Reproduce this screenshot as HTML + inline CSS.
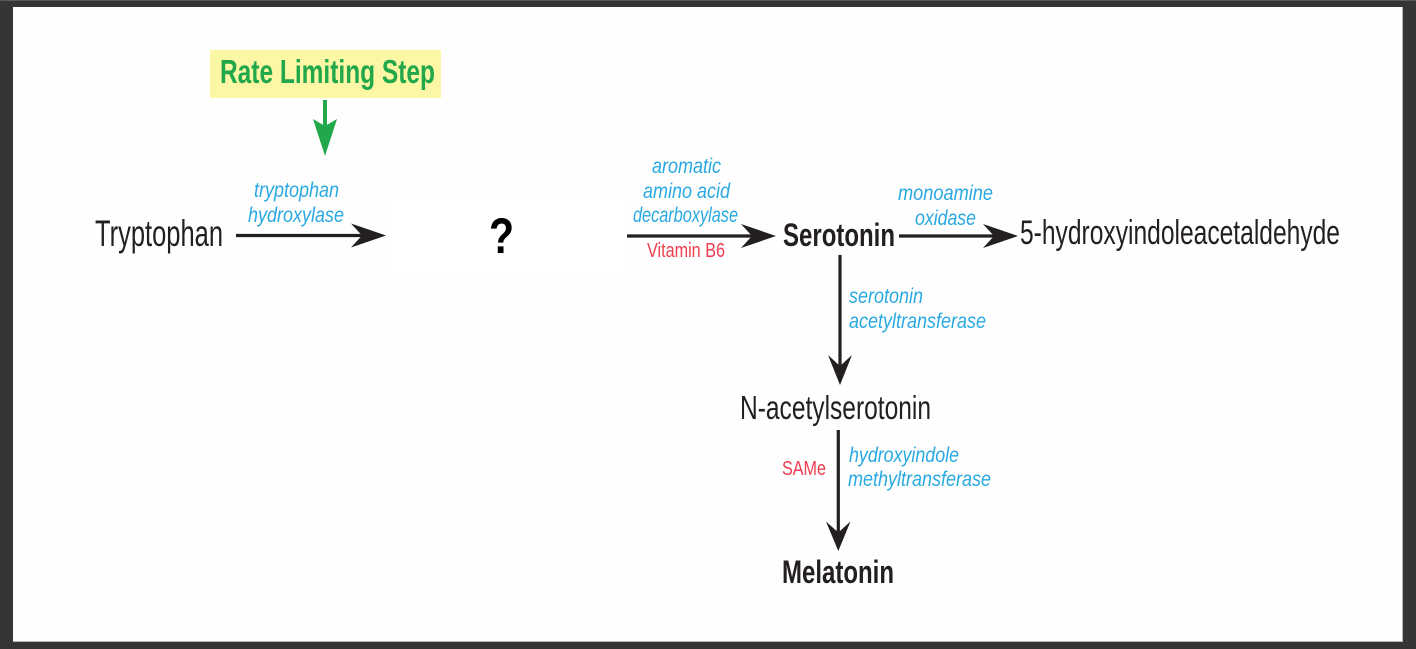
<!DOCTYPE html>
<html>
<head>
<meta charset="utf-8">
<style>
  html, body { margin: 0; padding: 0; }
  body { width: 1416px; height: 649px; background: #353535; position: relative; overflow: hidden; }
  .topline { position: absolute; left: 0; top: 0; width: 1416px; height: 1px; background: #5a5a5a; }
  .inner { position: absolute; left: 13px; top: 7px; width: 1389px; height: 634px; background: #fefefe; border-right: 1px solid #b8b8b8; border-bottom: 1px solid #b8b8b8; }
  svg { position: absolute; left: 0; top: 0; }
  text { font-family: "Liberation Sans", Arial, sans-serif; }
  .blk { fill: #231f20; }
  .blue { fill: #29a9e1; font-style: italic; font-size: 21px; }
  .red { fill: #ee3e4f; font-size: 20px; }
</style>
</head>
<body>
<div class="topline"></div>
<div class="inner"></div>
<svg width="1416" height="649" viewBox="0 0 1416 649" xmlns="http://www.w3.org/2000/svg">
  <!-- faint white box behind ? -->
  <rect x="386" y="193" width="240" height="80" fill="#ffffff"/>

  <!-- Rate limiting step -->
  <rect x="210" y="50" width="231" height="48" fill="#fbf7a4"/>
  <text x="220" y="83" font-size="33" font-weight="bold" fill="#22a84a" textLength="215" lengthAdjust="spacingAndGlyphs">Rate Limiting Step</text>
  <!-- green arrow -->
  <line x1="325" y1="100" x2="325" y2="126" stroke="#22a84a" stroke-width="4"/>
  <polygon points="313,119 325,126 337,119 325,156" fill="#22a84a"/>

  <!-- Tryptophan -->
  <text class="blk" x="95" y="246" font-size="37" textLength="128" lengthAdjust="spacingAndGlyphs">Tryptophan</text>
  <text class="blue" x="254" y="197" textLength="85" lengthAdjust="spacingAndGlyphs">tryptophan</text>
  <text class="blue" x="248" y="222" textLength="96" lengthAdjust="spacingAndGlyphs">hydroxylase</text>
  <line x1="236" y1="235.5" x2="364" y2="235.5" stroke="#231f20" stroke-width="3.2"/>
  <polygon points="351,223.5 362,235.5 351,247.5 386,235.5" fill="#231f20"/>

  <!-- ? -->
  <text x="501.5" y="253" font-size="50" font-weight="bold" fill="#000" text-anchor="middle" transform="translate(501.5 0) scale(0.82 1) translate(-501.5 0)">?</text>

  <!-- aromatic amino acid decarboxylase -->
  <text class="blue" x="652" y="173" textLength="69" lengthAdjust="spacingAndGlyphs">aromatic</text>
  <text class="blue" x="643" y="198" textLength="87" lengthAdjust="spacingAndGlyphs">amino acid</text>
  <text class="blue" x="633" y="222" textLength="105" lengthAdjust="spacingAndGlyphs">decarboxylase</text>
  <line x1="627" y1="236" x2="754" y2="236" stroke="#231f20" stroke-width="3.2"/>
  <polygon points="741,224 752,236 741,248 776,236" fill="#231f20"/>
  <text class="red" x="647" y="257" textLength="78" lengthAdjust="spacingAndGlyphs">Vitamin B6</text>

  <!-- Serotonin -->
  <text class="blk" x="783" y="246" font-size="32" font-weight="bold" textLength="112" lengthAdjust="spacingAndGlyphs">Serotonin</text>

  <!-- monoamine oxidase -->
  <text class="blue" x="898" y="200" textLength="95" lengthAdjust="spacingAndGlyphs">monoamine</text>
  <text class="blue" x="915" y="225" textLength="61" lengthAdjust="spacingAndGlyphs">oxidase</text>
  <line x1="899" y1="236" x2="996" y2="236" stroke="#231f20" stroke-width="3.2"/>
  <polygon points="983,224 994,236 983,248 1018,236" fill="#231f20"/>
  <text class="blk" x="1020" y="244" font-size="34" textLength="320" lengthAdjust="spacingAndGlyphs">5-hydroxyindoleacetaldehyde</text>

  <!-- serotonin acetyltransferase -->
  <line x1="840" y1="255" x2="840" y2="366" stroke="#231f20" stroke-width="3.2"/>
  <polygon points="828,355 840,366 852,355 840,385" fill="#231f20"/>
  <text class="blue" x="849" y="303" textLength="74" lengthAdjust="spacingAndGlyphs">serotonin</text>
  <text class="blue" x="849" y="328" textLength="137" lengthAdjust="spacingAndGlyphs">acetyltransferase</text>

  <!-- N-acetylserotonin -->
  <text class="blk" x="740" y="419" font-size="33" textLength="191" lengthAdjust="spacingAndGlyphs">N-acetylserotonin</text>

  <!-- hydroxyindole methyltransferase -->
  <line x1="838.3" y1="430" x2="838.3" y2="533" stroke="#231f20" stroke-width="3.2"/>
  <polygon points="826,521.5 838.3,532.5 850.5,521.5 838.3,551" fill="#231f20"/>
  <text class="red" x="782" y="475" textLength="44" lengthAdjust="spacingAndGlyphs">SAMe</text>
  <text class="blue" x="849" y="462" textLength="110" lengthAdjust="spacingAndGlyphs">hydroxyindole</text>
  <text class="blue" x="848" y="486" textLength="143" lengthAdjust="spacingAndGlyphs">methyltransferase</text>

  <!-- Melatonin -->
  <text class="blk" x="782" y="583" font-size="32" font-weight="bold" textLength="112" lengthAdjust="spacingAndGlyphs">Melatonin</text>
</svg>
</body>
</html>
